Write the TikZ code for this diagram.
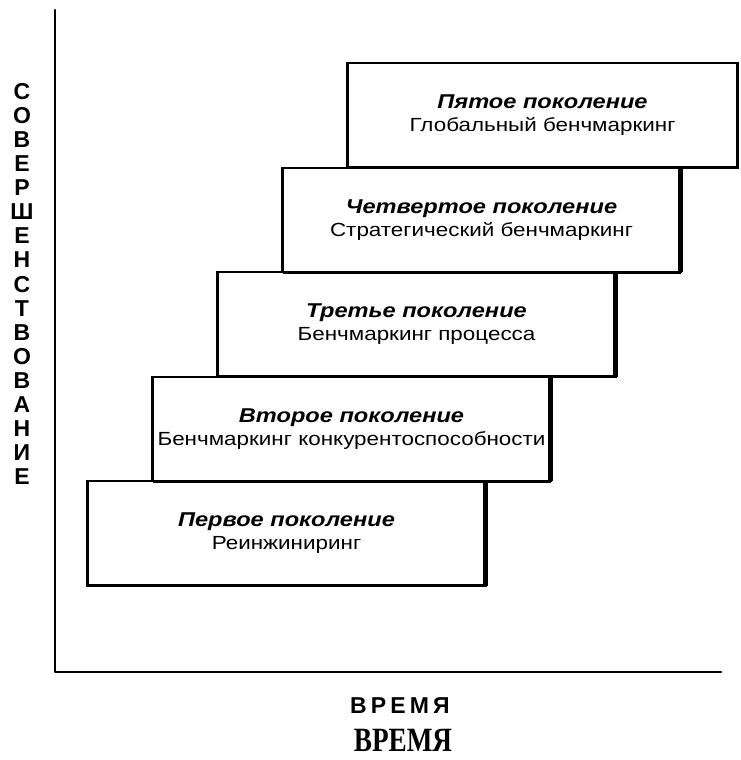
\documentclass[tikz,border=0pt]{standalone}
\usepackage{fontspec}
\setmainfont{Liberation Sans}
\newfontfamily\genfont[FakeStretch=1.18]{Liberation Sans}
\newfontfamily\axisfont{Liberation Sans}
\newfontfamily\captionfont[FakeStretch=0.8]{Liberation Serif}
\usetikzlibrary{positioning}
\newcommand{\gentitle}[1]{{\fontsize{20}{23}\selectfont\textbf{\textit{#1}}}}
\tikzset{
  genbox/.style={rectangle, draw, line width=2.2pt, align=center, minimum width=398pt, minimum height=104.5pt, inner sep=0pt, outer sep=0pt, font=\genfont\fontsize{19}{23}\selectfont},
  rimline/.style={line width=5.5pt},
  baseline/.style={line width=3.4pt},
  axis/.style={line width=2.6pt, line cap=round, line join=round}
}

\begin{document}
\begin{tikzpicture}[x=1pt, y=-1pt, node distance=0pt]
  \useasboundingbox (0,0) rectangle (741,760);
  % axes
  \coordinate (ytop) at (55,10);
  \coordinate (origin) at (55,672);
  \coordinate (xend) at (721,672);
  \draw[axis] (ytop) -- (origin) -- (xend);

  % generations
  \node[genbox] (gen1) at (286.5,533.5) {\gentitle{Первое поколение}\\Реинжиниринг};
  \node[genbox, above=of gen1, xshift=65pt] (gen2) {\gentitle{Второе поколение}\\Бенчмаркинг конкурентоспособности};
  \node[genbox, above=of gen2, xshift=65pt] (gen3) {\gentitle{Третье поколение}\\Бенчмаркинг процесса};
  \node[genbox, above=of gen3, xshift=65pt] (gen4) {\gentitle{Четвертое поколение}\\Стратегический бенчмаркинг};
  \node[genbox, minimum width=390pt, above=of gen4.north west, anchor=south west, xshift=65pt] (gen5) {\gentitle{Пятое поколение}\\Глобальный бенчмаркинг};

  \foreach \g in {gen1,gen2,gen3,gen4} {
    \draw[rimline] (\g.north east) -- (\g.south east);
    \draw[baseline] (\g.south west) -- (\g.south east);
  }
  \draw[baseline] (gen5.south west) -- (gen5.south east);

  % axis labels
  \node[font=\axisfont\bfseries\fontsize{23}{24.06}\selectfont, align=center, inner sep=0pt] (qualitylabel) at (22,284) {С\\О\\В\\Е\\Р\\Ш\\Е\\Н\\С\\Т\\В\\О\\В\\А\\Н\\И\\Е};
  \node[font=\axisfont\bfseries\fontsize{23}{23}\selectfont\addfontfeature{LetterSpace=18}, inner sep=0pt] (timelabel) at (400,706) {ВРЕМЯ};
  \node[font=\captionfont\bfseries\fontsize{34}{34}\selectfont, inner sep=0pt] (timecaption) at (403,740) {ВРЕМЯ};
\end{tikzpicture}
\end{document}
